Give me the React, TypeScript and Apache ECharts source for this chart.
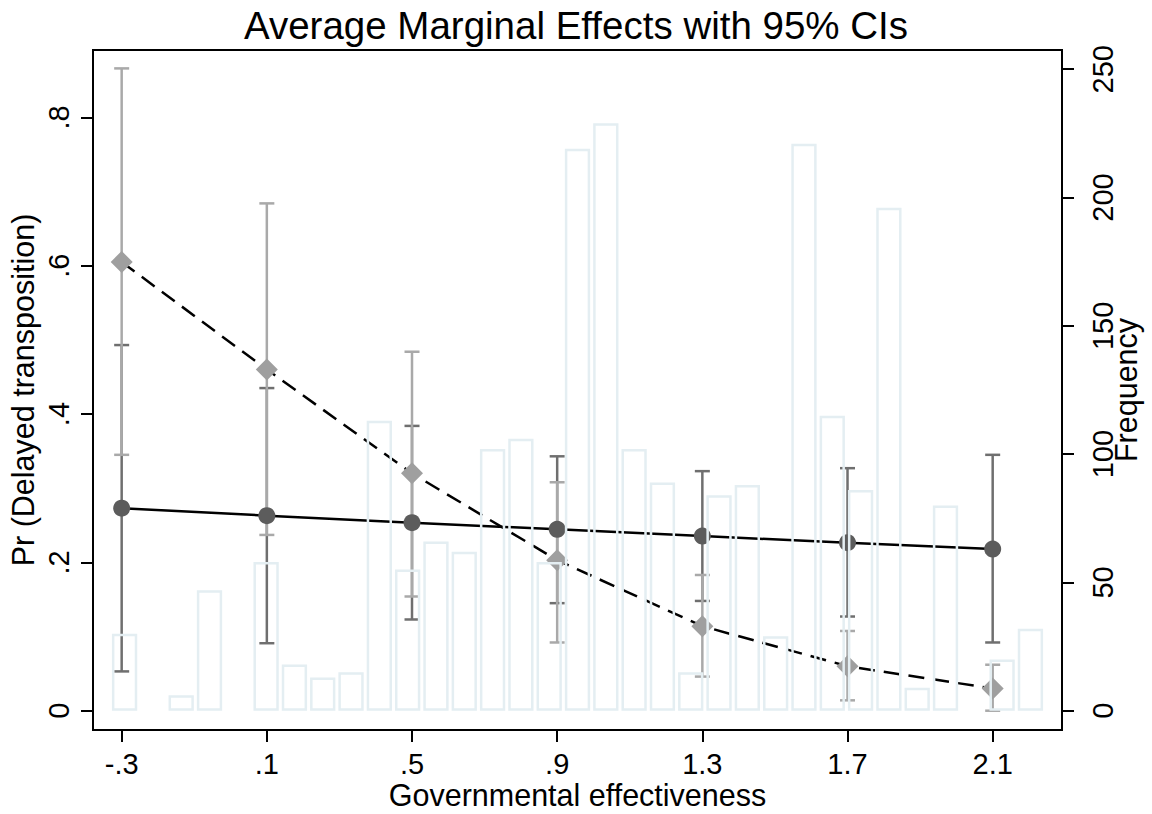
import React, { useEffect, useRef } from "react";
import * as echarts from "echarts";

// Axis ticks and labels
const xTicks = [-0.3, 0.1, 0.5, 0.9, 1.3, 1.7, 2.1];
const xTickLabels = ["-.3", ".1", ".5", ".9", "1.3", "1.7", "2.1"];
const yLeftTicks = [0, 0.2, 0.4, 0.6, 0.8];
const yLeftTickLabels = ["0", ".2", ".4", ".6", ".8"];
const yRightTicks = [0, 50, 100, 150, 200, 250];

// Average marginal effects (points at these x values)
const effectX = [-0.3, 0.1, 0.5, 0.9, 1.3, 1.7, 2.1];
const seriesA = [0.273, 0.263, 0.2535, 0.2446, 0.2355, 0.2265, 0.218];
const seriesALow = [0.053, 0.091, 0.123, 0.145, 0.148, 0.127, 0.092];
const seriesAHigh = [0.493, 0.435, 0.384, 0.343, 0.323, 0.327, 0.345];
const seriesB = [0.605, 0.46, 0.32, 0.203, 0.114, 0.06, 0.03];
const seriesBLow = [0.345, 0.237, 0.154, 0.092, 0.046, 0.014, 0.0];
const seriesBHigh = [0.866, 0.684, 0.484, 0.308, 0.183, 0.1075, 0.062];

// Histogram of governmental effectiveness
const histStart = -0.331;
const histWidth = 0.078;
const histCounts = [
  30, 0, 6, 47, 0, 58, 18, 13, 15, 113, 55, 66, 62, 102, 106, 58, 219, 229,
  102, 89, 15, 84, 88, 29, 221, 115, 86, 196, 9, 80, 0, 20, 32,
];

const FONT = "'Liberation Sans', Arial, sans-serif";

const lookup = (vals: number[], labels: string[]) => (v: number) => {
  const i = vals.findIndex((t) => Math.abs(t - v) < 1e-6);
  return i >= 0 ? labels[i] : "";
};

const errorBarRender = (color: string) => (params: any, api: any) => {
  const x = api.value(0);
  const lo = api.value(1);
  const hi = api.value(2);
  const a = api.coord([x, hi]);
  const b = api.coord([x, lo]);
  const hw = 7.5;
  const style = { stroke: color, lineWidth: 2.5 };
  return {
    type: "group",
    children: [
      { type: "line", shape: { x1: a[0], y1: a[1], x2: b[0], y2: b[1] }, style },
      { type: "line", shape: { x1: a[0] - hw, y1: a[1], x2: a[0] + hw, y2: a[1] }, style },
      { type: "line", shape: { x1: b[0] - hw, y1: b[1], x2: b[0] + hw, y2: b[1] }, style },
    ],
  };
};

const histRender = (params: any, api: any) => {
  const s = api.value(0);
  const e = api.value(1);
  const c = api.value(2);
  if (!c) return null;
  const p0 = api.coord([s, c]);
  const p1 = api.coord([e, 0]);
  const lw = 2.5;
  const inset = 1.5 + lw / 2;
  return {
    type: "rect",
    shape: {
      x: p0[0] + inset,
      y: p0[1] + lw / 2,
      width: p1[0] - p0[0] - 2 * inset,
      height: p1[1] - p0[1] - lw,
    },
    style: { fill: "none", stroke: "#e4eef2", lineWidth: lw },
  };
};

export default function App() {
  const ref = useRef<HTMLDivElement>(null);
  useEffect(() => {
    document.body.style.margin = "0";
    if (!ref.current) return;
    const chart = echarts.init(ref.current, null, { renderer: "svg" });
    const histData = histCounts.map((c, i) => [
      histStart + i * histWidth,
      histStart + (i + 1) * histWidth,
      c,
    ]);
    const axisLineStyle = { color: "#000", width: 2 };
    chart.setOption({
      animation: false,
      backgroundColor: "#fff",
      title: {
        text: "Average Marginal Effects with 95% CIs",
        left: "center",
        top: 1,
        textStyle: { fontSize: 38.5, fontWeight: "normal", color: "#000", fontFamily: FONT },
      },
      grid: {
        left: 93,
        right: 90,
        top: 50,
        bottom: 84,
        containLabel: false,
        outerBoundsMode: "none",
        show: true,
        borderColor: "#000",
        borderWidth: 2,
        backgroundColor: "#fff",
      },
      xAxis: {
        type: "value",
        min: -0.379,
        max: 2.291,
        splitLine: { show: false },
        axisLine: { show: true, onZero: false, lineStyle: axisLineStyle },
        axisTick: { show: true, customValues: xTicks, length: 12, lineStyle: axisLineStyle },
        axisLabel: {
          customValues: xTicks,
          formatter: lookup(xTicks, xTickLabels),
          fontSize: 29,
          color: "#000",
          margin: 19,
          fontFamily: FONT,
        },
        name: "Governmental effectiveness",
        nameLocation: "middle",
        nameGap: 49,
        nameMoveOverlap: false,
        nameTextStyle: { fontSize: 30.5, color: "#000", fontFamily: FONT },
      },
      yAxis: [
        {
          type: "value",
          position: "left",
          min: -0.026,
          max: 0.8908,
          splitLine: { show: false },
          axisLine: { show: true, onZero: false, lineStyle: axisLineStyle },
          axisTick: { show: true, customValues: yLeftTicks, length: 12, lineStyle: axisLineStyle },
          axisLabel: {
            customValues: yLeftTicks,
            formatter: lookup(yLeftTicks, yLeftTickLabels),
            rotate: 90,
            fontSize: 29,
            color: "#000",
            margin: 20,
            fontFamily: FONT,
          },
          name: "Pr (Delayed transposition)",
          nameLocation: "middle",
          nameRotate: 90,
          nameGap: 55,
          nameMoveOverlap: false,
          nameTextStyle: { fontSize: 30.5, color: "#000", fontFamily: FONT },
        },
        {
          type: "value",
          position: "right",
          min: -7.5,
          max: 257.5,
          splitLine: { show: false },
          axisLine: { show: true, onZero: false, lineStyle: axisLineStyle },
          axisTick: { show: true, customValues: yRightTicks, length: 12, lineStyle: axisLineStyle },
          axisLabel: {
            customValues: yRightTicks,
            formatter: (v: number) => String(v),
            rotate: 90,
            fontSize: 29,
            color: "#000",
            margin: 26,
            fontFamily: FONT,
          },
          name: "Frequency",
          nameLocation: "middle",
          nameRotate: 90,
          nameGap: 48,
          nameMoveOverlap: false,
          nameTextStyle: { fontSize: 30.5, color: "#000", fontFamily: FONT },
        },
      ],
      series: [
        {
          type: "custom",
          name: "ciA",
          xAxisIndex: 0,
          yAxisIndex: 0,
          renderItem: errorBarRender("#6f6f6f"),
          encode: { x: 0, y: [1, 2] },
          data: effectX.map((x, i) => [x, seriesALow[i], seriesAHigh[i]]),
          z: 2,
        },
        {
          type: "custom",
          name: "ciB",
          xAxisIndex: 0,
          yAxisIndex: 0,
          renderItem: errorBarRender("#a9a9a9"),
          encode: { x: 0, y: [1, 2] },
          data: effectX.map((x, i) => [x, seriesBLow[i], seriesBHigh[i]]),
          z: 2,
        },
        {
          type: "line",
          name: "A",
          xAxisIndex: 0,
          yAxisIndex: 0,
          data: effectX.map((x, i) => [x, seriesA[i]]),
          symbol: "circle",
          symbolSize: 17,
          itemStyle: { color: "#5c5c5c" },
          lineStyle: { color: "#000", width: 2.5 },
          z: 3,
        },
        {
          type: "line",
          name: "B",
          xAxisIndex: 0,
          yAxisIndex: 0,
          data: effectX.map((x, i) => [x, seriesB[i]]),
          symbol: "diamond",
          symbolSize: 22,
          itemStyle: { color: "#9f9f9f" },
          lineStyle: { color: "#000", width: 2.5, type: [16, 9] },
          z: 3,
        },
        {
          type: "custom",
          name: "hist",
          xAxisIndex: 0,
          yAxisIndex: 1,
          renderItem: histRender,
          encode: { x: [0, 1], y: 2 },
          data: histData,
          z: 5,
        },
      ],
    });
    return () => chart.dispose();
  }, []);
  return (
    <div
      ref={ref}
      style={{ position: "fixed", left: 0, top: 0, width: 1152, height: 814 }}
    />
  );
}
